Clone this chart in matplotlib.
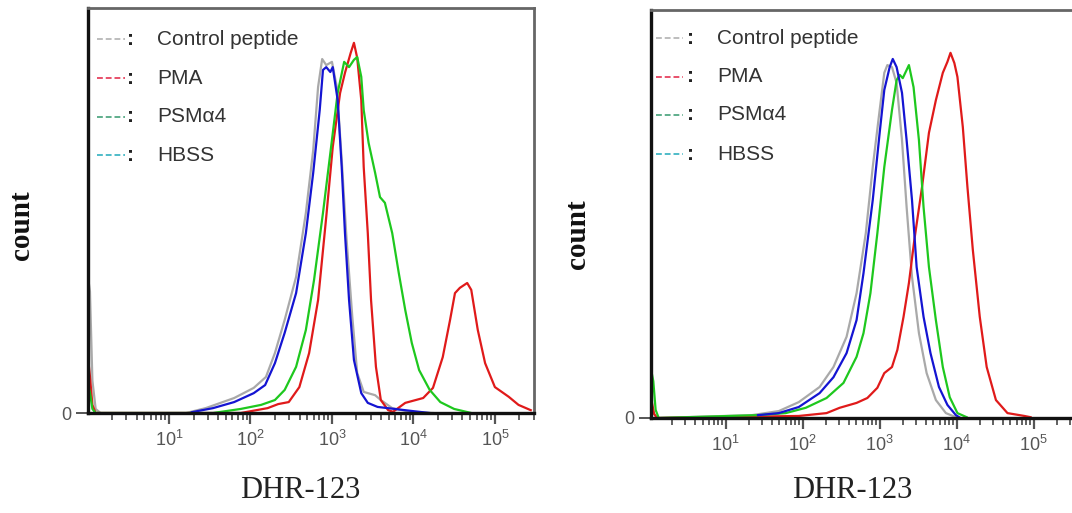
import matplotlib
matplotlib.use("Agg")
import matplotlib.pyplot as plt
import numpy as np
from matplotlib.ticker import LogLocator, LogFormatterSciNotation, NullFormatter, FixedLocator

plt.rcParams['font.family'] = ['Liberation Sans', 'DejaVu Sans']

# ---------- data (log10 DHR-123 intensity, count as % of axis height) ----------
labels = ["Control peptide", "PMA", "PSM\u03b14", "HBSS"]

# left panel
L_ctrl_x = [0.01, 0.03, 0.06, 0.10, 0.16, 1.21, 1.45, 1.80, 2.04, 2.19, 2.30, 2.42, 2.56, 2.68, 2.77,
            2.83, 2.88, 2.93, 3.00, 3.06, 3.12, 3.18, 3.25, 3.31, 3.39, 3.53, 3.60, 3.74, 3.98, 4.24]
L_ctrl_y = [33, 30, 8, 1.0, 0, 0, 1.2, 3.7, 6.2, 8.9, 14.8, 23.0, 33.6, 49.4, 64.9,
            80.5, 87.4, 85.9, 86.7, 80.5, 62.5, 42.7, 23.7, 9.9, 5.2, 4.4, 3.2, 1.2, 0.2, 0]

L_pma_x = [0.01, 0.03, 0.06, 0.10, 1.88, 2.21, 2.34, 2.47, 2.60, 2.72, 2.83, 2.93, 3.01, 3.10, 3.16,
           3.23, 3.27, 3.31, 3.36, 3.39, 3.44, 3.48, 3.54, 3.60, 3.69, 3.75, 3.90, 4.12, 4.24,
           4.36, 4.45, 4.51, 4.57, 4.66, 4.71, 4.79, 4.88, 5.00, 5.17, 5.29, 5.44]
L_pma_y = [13, 9, 2, 0, 0, 1.2, 2.2, 2.7, 6.4, 14.8, 27.9, 48.4, 65.7, 79.0, 84.0,
           88.9, 91.4, 87.7, 77.3, 60.7, 44.4, 27.9, 11.4, 3.2, 0.7, 0.3, 2.5, 3.7, 6.2,
           13.8, 23.0, 29.6, 30.9, 32.1, 30.4, 20.5, 12.3, 6.4, 4.0, 2.0, 0.7]

L_psm_x = [0.01, 0.03, 0.06, 0.10, 1.54, 1.88, 2.13, 2.30, 2.42, 2.56, 2.68, 2.78, 2.89, 3.00, 3.07,
           3.15, 3.21, 3.27, 3.31, 3.36, 3.39, 3.45, 3.53, 3.59, 3.65, 3.74, 3.82, 3.90,
           3.98, 4.07, 4.20, 4.33, 4.50, 4.71]
L_psm_y = [7, 5, 1, 0, 0, 1.0, 2.0, 3.2, 5.7, 11.4, 20.5, 32.8, 49.4, 67.4, 79.0,
           86.7, 85.4, 87.2, 87.9, 83.0, 74.8, 66.7, 59.3, 53.3, 51.9, 44.4, 34.6, 25.4,
           17.3, 10.6, 5.7, 2.7, 1.0, 0]

L_hbss_x = [1.28, 1.54, 1.80, 2.04, 2.18, 2.30, 2.42, 2.56, 2.68, 2.77, 2.85, 2.89, 2.93, 2.98,
            3.01, 3.07, 3.12, 3.16, 3.21, 3.27, 3.36, 3.44, 3.56, 3.77, 3.98, 4.20]
L_hbss_y = [0.2, 1.2, 2.7, 4.9, 6.9, 12.3, 19.8, 29.6, 44.4, 59.3, 74.8, 84.7, 85.4, 84.2,
            85.4, 77.3, 60.7, 44.4, 27.9, 13.1, 4.9, 2.5, 1.5, 1.0, 0.5, 0]

# right panel
R_ctrl_x = [0.04, 0.07, 0.11, 1.34, 1.69, 1.95, 2.22, 2.40, 2.57, 2.70, 2.82, 2.91, 3.00, 3.06,
            3.10, 3.16, 3.22, 3.29, 3.35, 3.42, 3.51, 3.61, 3.73, 3.86, 3.99]
R_ctrl_y = [3, 1, 0, 0.7, 1.7, 3.9, 7.6, 12.5, 19.9, 30.6, 45.3, 61.5, 75.5, 84.6,
            86.5, 86.0, 82.1, 68.1, 51.7, 34.6, 20.8, 11.0, 4.4, 1.2, 0.2]

R_pma_x = [0.04, 0.07, 0.11, 1.95, 2.31, 2.48, 2.70, 2.84, 2.97, 3.06, 3.16, 3.23, 3.31, 3.38, 3.45,
           3.55, 3.64, 3.73, 3.82, 3.88, 3.92, 3.97, 4.01, 4.08, 4.14, 4.21, 4.30, 4.39,
           4.51, 4.66, 4.88, 4.96]
R_pma_y = [4, 1, 0, 0.5, 1.2, 2.5, 3.7, 4.9, 7.4, 11.0, 12.5, 16.7, 24.8, 33.1, 43.6,
           56.6, 69.9, 77.9, 84.6, 87.3, 89.5, 87.0, 83.6, 71.3, 56.6, 41.2, 24.8, 12.5,
           4.4, 1.2, 0.5, 0.2]

R_psm_x = [0.04, 0.06, 0.09, 0.13, 1.42, 1.78, 2.04, 2.31, 2.53, 2.70, 2.79, 2.88, 2.97, 3.06, 3.16,
           3.22, 3.26, 3.30, 3.38, 3.44, 3.51, 3.57, 3.64, 3.73, 3.82, 3.91, 4.01, 4.13]
R_psm_y = [11, 9, 2, 0, 0.7, 1.2, 2.5, 4.9, 8.6, 15.0, 20.8, 30.6, 45.3, 61.5, 75.5,
           82.8, 84.1, 83.3, 86.5, 81.1, 68.1, 51.7, 37.0, 24.0, 12.5, 5.1, 1.2, 0.2]

R_hbss_x = [1.42, 1.69, 1.95, 2.22, 2.40, 2.57, 2.70, 2.79, 2.91, 3.00, 3.06, 3.13, 3.17, 3.22,
            3.29, 3.35, 3.42, 3.48, 3.57, 3.66, 3.77, 3.88, 3.99, 4.05]
R_hbss_y = [0.7, 1.2, 2.7, 6.1, 10.0, 15.9, 24.0, 35.5, 53.4, 69.9, 80.4, 86.0, 88.0, 86.0,
            79.7, 68.1, 53.4, 37.0, 24.8, 15.9, 7.6, 3.2, 0.7, 0]

curve_colors = ['#a9a9a9', '#e01a1a', '#1ec81e', '#1414d2']
legend_colors = ['#bdbdbd', '#e8506a', '#5fae8c', '#4fbcc9']

decades = [10, 100, 1000, 10000, 100000]

# ---------- figure ----------
W, H = 1072, 513
fig = plt.figure(figsize=(W / 100, H / 100), dpi=100)


def make_axes(px_left, px_right, px_top, px_bottom, xlog_lo, xlog_hi):
    ax = fig.add_axes([px_left / W, 1 - px_bottom / H,
                       (px_right - px_left) / W, (px_bottom - px_top) / H])
    ax.set_xscale('log')
    ax.set_xlim(10 ** xlog_lo, 10 ** xlog_hi)
    ax.set_ylim(0, 100)
    for s in ['left', 'bottom']:
        ax.spines[s].set_linewidth(2.4)
        ax.spines[s].set_color('#111111')
    for s in ['top', 'right']:
        ax.spines[s].set_linewidth(2.0)
        ax.spines[s].set_color('#666666')
    ax.xaxis.set_major_locator(FixedLocator(decades))
    ax.xaxis.set_major_formatter(LogFormatterSciNotation())
    ax.xaxis.set_minor_locator(LogLocator(base=10, subs=np.arange(2, 10)))
    ax.xaxis.set_minor_formatter(NullFormatter())
    ax.tick_params(axis='x', which='major', direction='out', length=8, width=1.6,
                   color='#555555', labelcolor='#555555', labelsize=13, pad=4)
    ax.tick_params(axis='x', which='minor', direction='out', length=5, width=1.3,
                   color='#555555')
    ax.set_yticks([0])
    ax.set_yticklabels(['0'])
    ax.tick_params(axis='y', direction='out', length=9, width=1.4, color='#555555',
                   labelcolor='#555555', labelsize=13, pad=3)
    return ax


def draw_panel(ax, xs, ys):
    for x, y, c in zip(xs, ys, curve_colors):
        ax.plot(10 ** np.array(x), y, color=c, lw=1.6, solid_joinstyle='round')


def draw_legend(ax, x0, x1, xc, xt, rows):
    for lab, c, ry in zip(labels, legend_colors, rows):
        ax.plot([x0, x1], [ry, ry], transform=ax.transAxes, color=c, lw=1.4,
                ls=(0, (3, 1.5)), clip_on=False)
        ax.text(xc, ry, ':', transform=ax.transAxes, fontsize=15, fontweight='bold',
                color='#222222', ha='center', va='center')
        ax.text(xt, ry, lab, transform=ax.transAxes, fontsize=15, color='#333333',
                ha='left', va='center')


ax1 = make_axes(88, 534, 8, 413, 0.006, 5.48)
draw_panel(ax1, [L_ctrl_x, L_pma_x, L_psm_x, L_hbss_x], [L_ctrl_y, L_pma_y, L_psm_y, L_hbss_y])
draw_legend(ax1, 0.02, 0.083, 0.095, 0.155, [0.923, 0.826, 0.731, 0.637])

ax2 = make_axes(651, 1076, 10, 418, 0.03, 5.55)
draw_panel(ax2, [R_ctrl_x, R_pma_x, R_psm_x, R_hbss_x], [R_ctrl_y, R_pma_y, R_psm_y, R_hbss_y])
draw_legend(ax2, 0.012, 0.075, 0.092, 0.155, [0.931, 0.836, 0.743, 0.647])

# axis titles
serif = ['Liberation Serif', 'DejaVu Serif']
fig.text(22 / W, 1 - 225 / H, 'count', rotation=90, fontsize=21, fontweight='bold',
         family=serif, ha='center', va='center', color='#111111')
fig.text(577 / W, 1 - 234 / H, 'count', rotation=90, fontsize=21, fontweight='bold',
         family=serif, ha='center', va='center', color='#111111')
fig.text(300 / W, 1 - 490 / H, 'DHR-123', fontsize=22, family=serif,
         ha='center', va='center', color='#222222')
fig.text(852 / W, 1 - 490 / H, 'DHR-123', fontsize=22, family=serif,
         ha='center', va='center', color='#222222')

fig.savefig('out.png', dpi=100)
